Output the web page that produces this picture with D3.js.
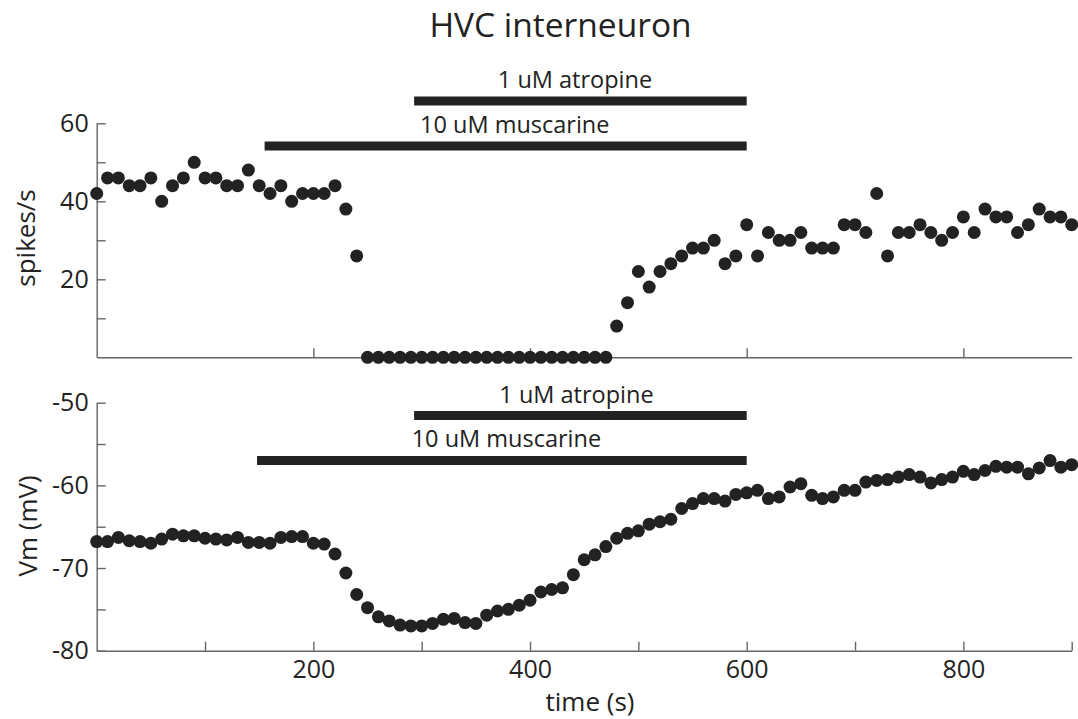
<!DOCTYPE html>
<html>
<head>
<meta charset="utf-8">
<script src="https://cdn.jsdelivr.net/npm/d3@7"></script>
<style>
  html, body { margin: 0; padding: 0; background: #fff; }
  svg text { font-family: "Open Sans", "DejaVu Sans", sans-serif; fill: #222; }
</style>
</head>
<body>
<svg id="chart" width="1078" height="719"></svg>
<script>
// ---- data ----
const times = d3.range(0, 901, 10);
const spikeRate = [
  42, 46, 46, 44, 44, 46, 40, 44, 46, 50,
  46, 46, 44, 44, 48, 44, 42, 44, 40, 42,
  42, 42, 44, 38, 26, 0, 0, 0, 0, 0,
  0, 0, 0, 0, 0, 0, 0, 0, 0, 0,
  0, 0, 0, 0, 0, 0, 0, 0, 8, 14,
  22, 18, 22, 24, 26, 28, 28, 30, 24, 26,
  34, 26, 32, 30, 30, 32, 28, 28, 28, 34,
  34, 32, 42, 26, 32, 32, 34, 32, 30, 32,
  36, 32, 38, 36, 36, 32, 34, 38, 36, 36,
  34
];
const vm = [
  -66.8, -66.8, -66.3, -66.7, -66.8, -67.0, -66.5, -65.9, -66.1, -66.1,
  -66.4, -66.5, -66.6, -66.3, -66.9, -66.9, -67.0, -66.3, -66.2, -66.2,
  -67.0, -67.1, -68.3, -70.6, -73.2, -74.8, -75.9, -76.4, -76.9, -77.0,
  -77.0, -76.7, -76.2, -76.1, -76.6, -76.7, -75.7, -75.2, -75.0, -74.5,
  -73.9, -72.9, -72.6, -72.4, -70.8, -69.0, -68.4, -67.4, -66.4, -65.8,
  -65.5, -64.7, -64.4, -64.1, -62.8, -62.2, -61.6, -61.6, -61.9, -61.1,
  -60.9, -60.6, -61.6, -61.4, -60.2, -59.8, -61.2, -61.6, -61.4, -60.6,
  -60.6, -59.6, -59.4, -59.3, -59.0, -58.7, -59.0, -59.7, -59.3, -59.0,
  -58.3, -58.7, -58.2, -57.7, -57.8, -57.8, -58.6, -57.9, -57.0, -57.8,
  -57.5
];
const drugLabels = ["1 uM atropine", "10 uM muscarine"];
const drugTop = [[293, 600], [155, 600]];     // [start, end] in s, top panel
const drugBottom = [[293, 600], [148, 600]];  // bottom panel
const xTicks = [100, 200, 300, 400, 500, 600, 700, 800, 900];
const xTickLabels = [200, 400, 600, 800];
const xTicksTop = [200, 400, 600, 800];
const yTopTicks = [10, 20, 30, 40, 50, 60];
const yTopLabels = [20, 40, 60];
const yBotTicks = [-80, -75, -70, -65, -60, -55, -50];
const yBotLabels = [-80, -70, -60, -50];

// ---- layout ----
const svg = d3.select("#chart");
const ink = "#222";
const axisCol = "#666";
const x = d3.scaleLinear().domain([0, 900]).range([96.7, 1071.7]);
const yTop = d3.scaleLinear().domain([0, 60]).range([357.3, 123.3]);
const yBot = d3.scaleLinear().domain([-80, -50]).range([650.7, 402.7]);
const tickFont = 25, drugFont = 23.5, labelFont = 26;

function styleAxis(g) {
  g.selectAll("path.domain").attr("stroke", axisCol).attr("stroke-width", 1.4);
  g.selectAll(".tick line").attr("stroke", axisCol).attr("stroke-width", 1.4);
  g.selectAll(".tick text").attr("font-size", tickFont).attr("fill", ink)
    .attr("font-family", '"Open Sans", sans-serif');
}

// top panel axes
svg.append("g").attr("transform", `translate(${x(0)},0)`)
  .call(d3.axisLeft(yTop).tickValues(yTopTicks).tickSizeInner(-9).tickSizeOuter(0).tickPadding(8)
    .tickFormat(d => yTopLabels.includes(d) ? d : ""))
  .call(styleAxis);
svg.append("g").attr("transform", `translate(0,${yTop(0)})`)
  .call(d3.axisBottom(x).tickValues(xTicksTop).tickSizeInner(-9).tickSizeOuter(0).tickFormat(""))
  .call(styleAxis);

// bottom panel axes
svg.append("g").attr("transform", `translate(${x(0)},0)`)
  .call(d3.axisLeft(yBot).tickValues(yBotTicks).tickSizeInner(-9).tickSizeOuter(0).tickPadding(8)
    .tickFormat(d => yBotLabels.includes(d) ? d : ""))
  .call(styleAxis);
svg.append("g").attr("transform", `translate(0,${yBot(-80)})`)
  .call(d3.axisBottom(x).tickValues(xTicks).tickSizeInner(-9).tickSizeOuter(0).tickPadding(10)
    .tickFormat(d => xTickLabels.includes(d) ? d : ""))
  .call(styleAxis);

// dots
const r = 6.5;
svg.append("g").selectAll("circle").data(times).join("circle")
  .attr("cx", (d) => x(d)).attr("cy", (d, i) => yTop(spikeRate[i]))
  .attr("r", r).attr("fill", ink);
svg.append("g").selectAll("circle").data(times).join("circle")
  .attr("cx", (d) => x(d)).attr("cy", (d, i) => yBot(vm[i]))
  .attr("r", r).attr("fill", ink);

// drug bars
const barTopY = [101, 146];
const barBotY = [415.5, 460.5];
function bars(spans, ys) {
  svg.append("g").selectAll("line").data(spans).join("line")
    .attr("x1", d => x(d[0])).attr("x2", d => x(d[1]))
    .attr("y1", (d, i) => ys[i]).attr("y2", (d, i) => ys[i])
    .attr("stroke", ink).attr("stroke-width", 9);
}
bars(drugTop, barTopY);
bars(drugBottom, barBotY);

// drug labels
svg.append("text").attr("x", 575).attr("y", 88).attr("text-anchor", "middle")
  .attr("font-size", drugFont).text(drugLabels[0]);
svg.append("text").attr("x", 420).attr("y", 132.7)
  .attr("font-size", drugFont).text(drugLabels[1]);
svg.append("text").attr("x", 576.5).attr("y", 403).attr("text-anchor", "middle")
  .attr("font-size", drugFont).text(drugLabels[0]);
svg.append("text").attr("x", 411.7).attr("y", 446.7)
  .attr("font-size", drugFont).text(drugLabels[1]);

// title & axis labels
svg.append("text").attr("x", 560.5).attr("y", 37).attr("text-anchor", "middle")
  .attr("font-size", 33.5).text("HVC interneuron");
svg.append("text").attr("transform", "translate(35,238) rotate(-90)").attr("text-anchor", "middle")
  .attr("font-size", labelFont).text("spikes/s");
svg.append("text").attr("transform", "translate(37,526) rotate(-90)").attr("text-anchor", "middle")
  .attr("font-size", labelFont).text("Vm (mV)");
svg.append("text").attr("x", 590).attr("y", 711).attr("text-anchor", "middle")
  .attr("font-size", labelFont).text("time (s)");
</script>
</body>
</html>
